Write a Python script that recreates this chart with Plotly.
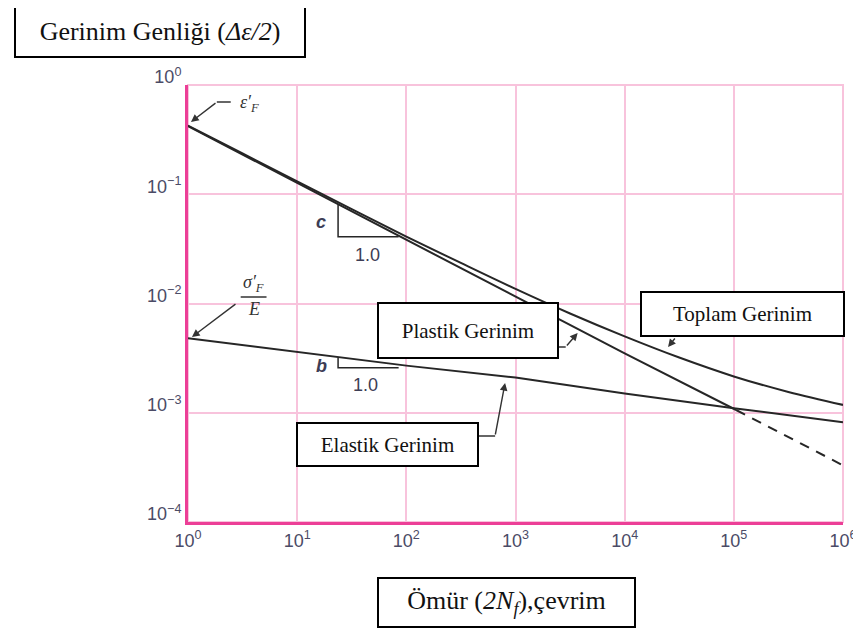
import plotly.graph_objects as go

# ---------------- data ----------------
life = [1, 10, 100, 1e3, 1e4, 1e5, 1e6]
elastic_strain = [0.0048, 0.0036, 0.0027, 0.0021, 0.0015, 0.00110, 0.00082]

plastic_life = [1, 10, 100, 1e3, 1e4, 1.05e5]
plastic_strain = [0.42, 0.127, 0.0385, 0.0116, 0.0035, 0.00106]
plastic_ext_life = [1.05e5, 1e6]
plastic_ext_strain = [0.00106, 0.00033]

total_life = [1, 3.16, 10, 31.6, 100, 316, 1e3, 3.16e3, 1e4, 3.16e4, 1e5, 3.16e5, 1e6]
total_strain = [0.425, 0.236, 0.131, 0.073, 0.041, 0.0235, 0.0136, 0.0081,
                0.0050, 0.0032, 0.00215, 0.00155, 0.00118]

tri_c_life = [23.7, 23.7, 85]
tri_c_strain = [0.081, 0.0408, 0.0408]
tri_b_life = [23.7, 23.7, 85]
tri_b_strain = [0.00320, 0.00258, 0.00258]

x_tickvals = [1, 10, 100, 1e3, 1e4, 1e5, 1e6]
x_ticktext = ["10<sup>0</sup>", "10<sup>1</sup>", "10<sup>2</sup>", "10<sup>3</sup>",
              "10<sup>4</sup>", "10<sup>5</sup>", "10<sup>6</sup>"]
y_tickvals = [1, 0.1, 0.01, 0.001, 0.0001]
y_ticktext = ["10<sup>0</sup>", "10<sup>−1</sup>", "10<sup>−2</sup>",
              "10<sup>−3</sup>", "10<sup>−4</sup>"]

# ---------------- layout helpers ----------------
W, H = 861, 630
OFF = 8  # default body margin of the html page
L, R, T, B = 188, 847, 85, 522  # plot area in screen pixels


def px(x):
    return (x - L) / (R - L)


def py(y):
    return (B - y) / (B - T)


LINE = "#262626"
PINK = "#f8c3dc"
MAGENTA = "#ec3f97"
TICKC = "#4b4b66"
SERIF = "Liberation Serif"
SANS = "Liberation Sans Narrow, Liberation Sans"

fig = go.Figure()

fig.add_trace(go.Scatter(x=total_life, y=total_strain, mode="lines",
                         line=dict(color=LINE, width=2), line_shape="spline",
                         hoverinfo="skip"))
fig.add_trace(go.Scatter(x=plastic_life, y=plastic_strain, mode="lines",
                         line=dict(color=LINE, width=2), hoverinfo="skip"))
fig.add_trace(go.Scatter(x=plastic_ext_life, y=plastic_ext_strain, mode="lines",
                         line=dict(color=LINE, width=2, dash="10px,8px"), hoverinfo="skip"))
fig.add_trace(go.Scatter(x=life, y=elastic_strain, mode="lines",
                         line=dict(color=LINE, width=2), hoverinfo="skip"))
fig.add_trace(go.Scatter(x=tri_c_life, y=tri_c_strain, mode="lines",
                         line=dict(color=LINE, width=1.5), hoverinfo="skip"))
fig.add_trace(go.Scatter(x=tri_b_life, y=tri_b_strain, mode="lines",
                         line=dict(color=LINE, width=1.5), hoverinfo="skip"))

axis_common = dict(type="log", showgrid=True, gridcolor=PINK, gridwidth=1.5,
                   showline=True, linecolor=MAGENTA, linewidth=3, zeroline=False,
                   ticks="", tickfont=dict(family=SANS, size=18, color=TICKC))

fig.update_xaxes(range=[0, 6], tickvals=x_tickvals, ticktext=x_ticktext, **axis_common)
fig.update_yaxes(range=[-4, 0], tickvals=y_tickvals, ticktext=y_ticktext,
                 ticklabelshift=-8, **axis_common)

shapes = [
    dict(type="rect", xref="paper", yref="paper", x0=0, x1=1, y0=0, y1=1,
         line=dict(color=PINK, width=2), layer="below"),
    dict(type="line", xref="paper", yref="paper", x0=px(217), x1=px(231), y0=py(102), y1=py(102),
         line=dict(color="#333", width=1.5)),
    dict(type="line", xref="paper", yref="paper", x0=px(480), x1=px(497), y0=py(436), y1=py(436),
         line=dict(color="#333", width=1.5)),
    dict(type="line", xref="paper", yref="paper", x0=px(560), x1=px(568), y0=py(347), y1=py(347),
         line=dict(color="#333", width=1.5)),
    dict(type="line", xref="paper", yref="paper", x0=px(241), x1=px(267), y0=py(297), y1=py(297),
         line=dict(color="#333", width=1.5)),
]

annotations = []


def arrow(tip_x, tip_y, tail_x, tail_y):
    annotations.append(dict(xref="paper", yref="paper", x=px(tip_x), y=py(tip_y),
                            ax=tail_x - tip_x, ay=tail_y - tip_y, axref="pixel", ayref="pixel",
                            text="", showarrow=True, arrowhead=2, arrowsize=1.1,
                            arrowwidth=1.4, arrowcolor="#333"))


arrow(191, 122, 217, 102)      # eps_f'
arrow(192, 337, 237, 303)      # sigma_f'/E
arrow(507, 383, 497, 436)      # elastic
arrow(580, 333, 568, 347)      # plastic
arrow(671, 347, 679, 337)      # total


def label(x, y, text, size, family=SERIF, color="#222", xanchor="center"):
    annotations.append(dict(xref="paper", yref="paper", x=px(x), y=py(y), text=text,
                            showarrow=False, xanchor=xanchor, yanchor="middle",
                            font=dict(family=family, size=size, color=color)))


label(250, 104, "<i>ε′<sub>F</sub></i>", 18, color="#333")
label(254, 283, "<i>σ′<sub>F</sub></i>", 18, color="#333")
label(254, 309, "<i>E</i>", 18, color="#333")
label(322, 222, "<b><i>c</i></b>", 18, family=SANS, color="#3d3d55")
label(322, 366, "<b><i>b</i></b>", 18, family=SANS, color="#3d3d55")
label(369, 255, "1.0", 18, family=SANS, color="#3d3d55")
label(367, 385, "1.0", 18, family=SANS, color="#3d3d55")


def box(x0, y0, x1, y1, text, size):
    annotations.append(dict(xref="paper", yref="paper", x=px(x0), y=py(y0),
                            xanchor="left", yanchor="top",
                            width=x1 - x0 - 4, height=y1 - y0 - 4,
                            text=text, showarrow=False, bgcolor="white",
                            bordercolor="black", borderwidth=2, borderpad=0,
                            font=dict(family=SERIF, size=size, color="#111")))


box(13, 4, 305, 58, "Gerinim Genliği (<i>Δε/2</i>)", 26)
box(378, 302, 560, 359, "Plastik Gerinim", 21)
box(643, 291, 848, 337, "Toplam Gerinim", 21)
box(297, 422, 480, 467, "Elastik Gerinim", 21)
box(378, 577, 637, 628, "Ömür (<i>2N<sub>f</sub></i>),çevrim", 26)

fig.update_layout(width=W, height=H, showlegend=False,
                  margin=dict(l=L - OFF, r=W - (R - OFF), t=T - OFF, b=H - (B - OFF)),
                  plot_bgcolor="white", paper_bgcolor="white",
                  shapes=shapes, annotations=annotations)

fig.write_html("out.html")
